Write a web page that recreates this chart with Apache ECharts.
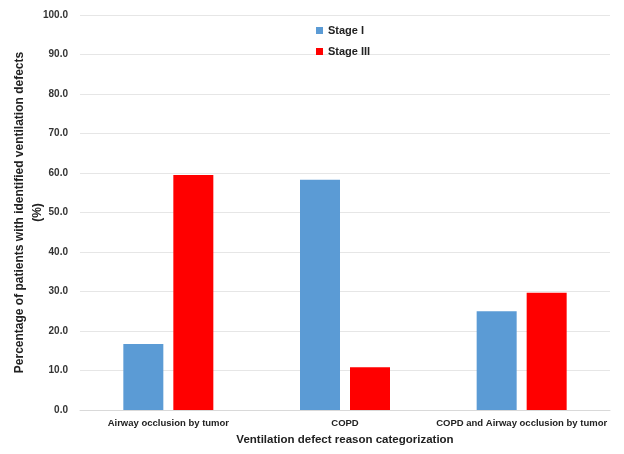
<!DOCTYPE html>
<html><head><meta charset="utf-8">
<script src="https://cdn.jsdelivr.net/npm/echarts@6/dist/echarts.min.js"></script>
<style>html,body{margin:0;padding:0;background:#fff}#c{width:624px;height:454px}</style>
</head><body><div id="c"></div>
<script>
const categories = ["Airway occlusion by tumor", "COPD", "COPD and Airway occlusion by tumor"];
const stageI = [16.7, 58.3, 25.0];
const stageIII = [59.5, 10.8, 29.7];
const seriesNames = ["Stage I", "Stage III"];
const FONT = "Liberation Sans";
const chart = echarts.init(document.getElementById('c'));
chart.setOption({
  animation: false,
  textStyle: { fontFamily: FONT },
  legend: {
    orient: 'vertical', left: 311, top: 20, itemWidth: 7, itemHeight: 7, itemGap: 10,
    icon: 'rect',
    textStyle: { fontFamily: FONT, fontWeight: 'bold', fontSize: 11, color: '#222' },
    data: seriesNames
  },
  grid: { left: 80, right: 14, top: 15, bottom: 44, outerBoundsMode: 'none', containLabel: false },
  xAxis: {
    type: 'category', data: categories,
    axisLine: { lineStyle: { color: '#d9d9d9' } },
    axisTick: { show: false },
    axisLabel: { interval: 0, fontFamily: FONT, fontWeight: 'bold', fontSize: 9.5, color: '#222', margin: 8 },
    name: 'Ventilation defect reason categorization', nameLocation: 'middle', nameGap: 24,
    nameTextStyle: { fontFamily: FONT, fontWeight: 'bold', fontSize: 11.5, color: '#222' }
  },
  yAxis: {
    type: 'value', min: 0, max: 100, interval: 10,
    axisLine: { show: false }, axisTick: { show: false },
    splitLine: { lineStyle: { color: '#e6e6e6' } },
    axisLabel: { fontFamily: FONT, fontWeight: 'bold', fontSize: 10, color: '#333', margin: 12, formatter: v => v.toFixed(1) },
    name: 'Percentage of patients with identified ventilation defects\n(%)', nameLocation: 'middle', nameGap: 33, nameRotate: 90,
    nameMoveOverlap: false,
    nameTextStyle: { fontFamily: FONT, fontWeight: 'bold', fontSize: 12, color: '#222', lineHeight: 18 }
  },
  series: [
    { name: seriesNames[0], type: 'bar', data: stageI, barWidth: 40, barGap: '25%', itemStyle: { color: '#5b9bd5' } },
    { name: seriesNames[1], type: 'bar', data: stageIII, barWidth: 40, barGap: '25%', itemStyle: { color: '#ff0000' } }
  ]
});
</script></body></html>
